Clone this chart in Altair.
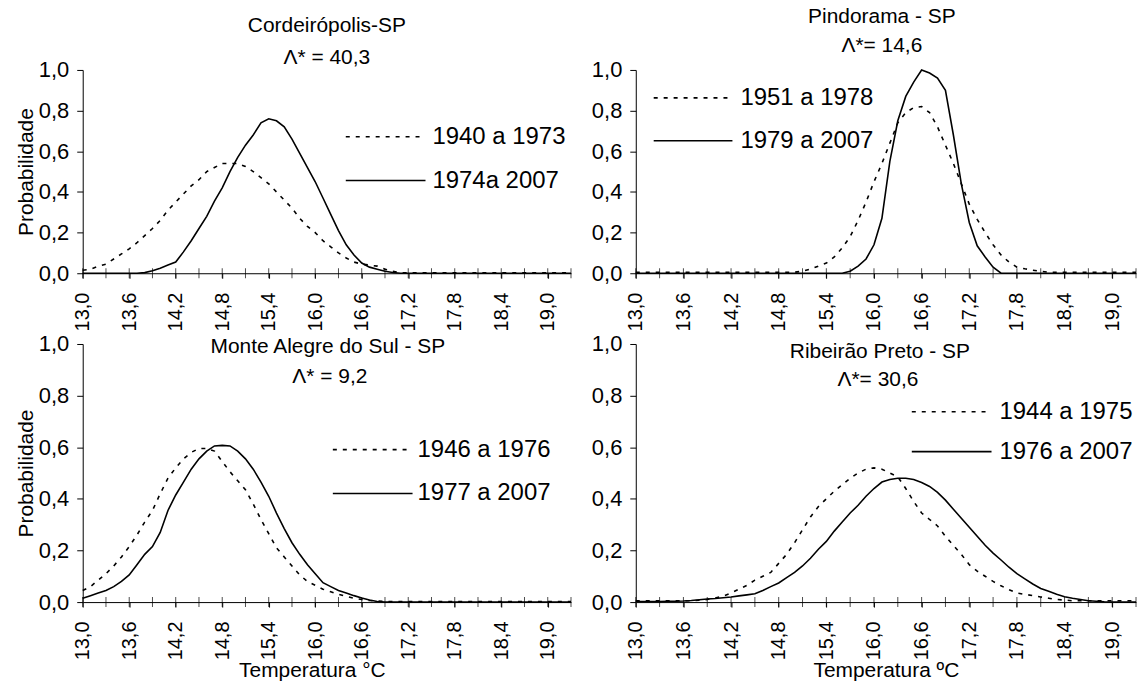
import altair as alt
import pandas as pd

FONT = "Liberation Sans"

TEMPS = [13.0, 13.1, 13.2, 13.3, 13.4, 13.5, 13.6, 13.7, 13.8, 13.9,
         14.0, 14.1, 14.2, 14.3, 14.4, 14.5, 14.6, 14.7, 14.8, 14.9,
         15.0, 15.1, 15.2, 15.3, 15.4, 15.5, 15.6, 15.7, 15.8, 15.9,
         16.0, 16.1, 16.2, 16.3, 16.4, 16.5, 16.6, 16.7, 16.8, 16.9,
         17.0, 17.1, 17.2, 17.3, 17.4, 17.5, 17.6, 17.7, 17.8, 17.9,
         18.0, 18.1, 18.2, 18.3, 18.4, 18.5, 18.6, 18.7, 18.8, 18.9,
         19.0, 19.1, 19.2, 19.3]

X_TICKS = [13.0, 13.3, 13.6, 13.9, 14.2, 14.5, 14.8, 15.1, 15.4, 15.7, 16.0,
           16.3, 16.6, 16.9, 17.2, 17.5, 17.8, 18.1, 18.4, 18.7, 19.0, 19.3]
Y_TICKS = [0.0, 0.2, 0.4, 0.6, 0.8, 1.0]

# Cordeirópolis-SP
cord_a = [0.015, 0.020, 0.035, 0.045, 0.070, 0.095, 0.120, 0.150, 0.185, 0.220,
          0.260, 0.310, 0.350, 0.390, 0.430, 0.460, 0.500, 0.520, 0.540, 0.540,
          0.540, 0.525, 0.500, 0.470, 0.440, 0.400, 0.360, 0.320, 0.270, 0.230,
          0.200, 0.160, 0.130, 0.100, 0.075, 0.055, 0.045, 0.040, 0.035, 0.020,
          0.010, 0.003, 0.002, 0.002, 0.002, 0.002, 0.002, 0.002, 0.002, 0.002,
          0.002, 0.002, 0.002, 0.002, 0.002, 0.002, 0.002, 0.002, 0.002, 0.002,
          0.002, 0.002, 0.002, 0.002]
cord_b = [0.0, 0.0, 0.0, 0.0, 0.0, 0.0, 0.0, 0.0, 0.003, 0.012,
          0.025, 0.040, 0.055, 0.105, 0.160, 0.220, 0.280, 0.355, 0.420, 0.500,
          0.570, 0.630, 0.680, 0.740, 0.760, 0.750, 0.720, 0.660, 0.590, 0.520,
          0.450, 0.370, 0.290, 0.210, 0.140, 0.090, 0.050, 0.030, 0.020, 0.010,
          0.004, 0.0, 0.0, 0.0, 0.0, 0.0, 0.0, 0.0, 0.0, 0.0,
          0.0, 0.0, 0.0, 0.0, 0.0, 0.0, 0.0, 0.0, 0.0, 0.0,
          0.0, 0.0, 0.0, 0.0]

# Pindorama - SP
pind_a = [0.005, 0.005, 0.005, 0.005, 0.005, 0.005, 0.005, 0.005, 0.005, 0.005,
          0.005, 0.005, 0.005, 0.005, 0.005, 0.005, 0.005, 0.005, 0.005, 0.005,
          0.005, 0.010, 0.020, 0.035, 0.050, 0.080, 0.125, 0.180, 0.260, 0.350,
          0.450, 0.540, 0.640, 0.740, 0.790, 0.815, 0.820, 0.790, 0.720, 0.630,
          0.540, 0.440, 0.340, 0.265, 0.200, 0.140, 0.090, 0.055, 0.030, 0.022,
          0.015, 0.010, 0.005, 0.005, 0.005, 0.005, 0.005, 0.005, 0.005, 0.005,
          0.005, 0.005, 0.005, 0.005]
pind_b = [0.0, 0.0, 0.0, 0.0, 0.0, 0.0, 0.0, 0.0, 0.0, 0.0,
          0.0, 0.0, 0.0, 0.0, 0.0, 0.0, 0.0, 0.0, 0.0, 0.0,
          0.0, 0.0, 0.0, 0.0, 0.0, 0.0, 0.0, 0.010, 0.035, 0.070,
          0.140, 0.270, 0.550, 0.750, 0.870, 0.940, 1.000, 0.985, 0.960, 0.900,
          0.680, 0.440, 0.250, 0.135, 0.080, 0.030, 0.0, 0.0, 0.0, 0.0,
          0.0, 0.0, 0.0, 0.0, 0.0, 0.0, 0.0, 0.0, 0.0, 0.0,
          0.0, 0.0, 0.0, 0.0]

# Monte Alegre do Sul - SP
mont_a = [0.045, 0.060, 0.085, 0.110, 0.140, 0.175, 0.215, 0.260, 0.310, 0.355,
          0.420, 0.480, 0.520, 0.555, 0.580, 0.595, 0.595, 0.585, 0.545, 0.505,
          0.470, 0.435, 0.380, 0.320, 0.265, 0.210, 0.175, 0.140, 0.105, 0.080,
          0.065, 0.050, 0.040, 0.030, 0.022, 0.015, 0.010, 0.006, 0.004, 0.003,
          0.002, 0.002, 0.002, 0.002, 0.002, 0.002, 0.002, 0.002, 0.002, 0.002,
          0.002, 0.002, 0.002, 0.002, 0.002, 0.002, 0.002, 0.002, 0.002, 0.002,
          0.002, 0.002, 0.002, 0.002]
mont_b = [0.015, 0.025, 0.035, 0.045, 0.060, 0.080, 0.105, 0.145, 0.185, 0.215,
          0.270, 0.355, 0.415, 0.465, 0.515, 0.555, 0.585, 0.605, 0.607, 0.605,
          0.585, 0.555, 0.515, 0.465, 0.410, 0.345, 0.285, 0.230, 0.185, 0.145,
          0.110, 0.075, 0.060, 0.045, 0.035, 0.025, 0.016, 0.008, 0.002, 0.0,
          0.0, 0.0, 0.0, 0.0, 0.0, 0.0, 0.0, 0.0, 0.0, 0.0,
          0.0, 0.0, 0.0, 0.0, 0.0, 0.0, 0.0, 0.0, 0.0, 0.0,
          0.0, 0.0, 0.0, 0.0]

# Ribeirão Preto - SP
ribe_a = [0.005, 0.005, 0.005, 0.005, 0.005, 0.005, 0.005, 0.005, 0.007, 0.010,
          0.016, 0.023, 0.035, 0.050, 0.065, 0.085, 0.100, 0.115, 0.150, 0.185,
          0.230, 0.280, 0.330, 0.370, 0.400, 0.430, 0.455, 0.480, 0.500, 0.515,
          0.520, 0.515, 0.500, 0.485, 0.440, 0.390, 0.345, 0.320, 0.295, 0.255,
          0.220, 0.185, 0.145, 0.120, 0.100, 0.080, 0.063, 0.048, 0.035, 0.030,
          0.025, 0.020, 0.015, 0.010, 0.008, 0.005, 0.005, 0.005, 0.005, 0.005,
          0.005, 0.005, 0.005, 0.005]
ribe_b = [0.002, 0.002, 0.002, 0.002, 0.003, 0.003, 0.004, 0.006, 0.009, 0.012,
          0.014, 0.017, 0.020, 0.024, 0.028, 0.032, 0.045, 0.060, 0.074, 0.095,
          0.115, 0.140, 0.170, 0.205, 0.235, 0.275, 0.310, 0.345, 0.375, 0.410,
          0.440, 0.465, 0.475, 0.480, 0.480, 0.475, 0.463, 0.448, 0.425, 0.395,
          0.360, 0.325, 0.290, 0.255, 0.220, 0.190, 0.163, 0.135, 0.110, 0.090,
          0.070, 0.053, 0.042, 0.030, 0.021, 0.015, 0.010, 0.005, 0.003, 0.001,
          0.0, 0.0, 0.0, 0.0]

TITLES = [("Cordeirópolis-SP", "Λ* = 40,3"),
          ("Pindorama - SP", "Λ*= 14,6"),
          ("Monte Alegre do Sul - SP", "Λ* = 9,2"),
          ("Ribeirão Preto - SP", "Λ*= 30,6")]
LEGENDS = [("1940 a 1973", "1974a 2007"),
           ("1951 a 1978", "1979 a 2007"),
           ("1946 a 1976", "1977 a 2007"),
           ("1944 a 1975", "1976 a 2007")]

DOT = [4, 6]
LW = 1.6

X_LABEL_EXPR = ("(round(datum.value*10)-130) % 6 == 0 ? "
                "replace(format(datum.value, '.1f'), '.', ',') : ''")
Y_LABEL_EXPR = "replace(format(datum.value, '.1f'), '.', ',')"


def text_layer(txt, px, py, size, align="center"):
    return alt.Chart(pd.DataFrame({"t": [txt]})).mark_text(
        font=FONT, fontSize=size, color="black", align=align, baseline="middle"
    ).encode(text="t:N", x=alt.value(px), y=alt.value(py))


def rule_layer(x1, x2, py, dash):
    mk = dict(color="black", strokeWidth=LW)
    if dash:
        mk["strokeDash"] = DOT
    return alt.Chart(pd.DataFrame({"k": [0]})).mark_rule(**mk).encode(
        x=alt.value(x1), x2=alt.value(x2), y=alt.value(py))


def panel(a_vals, b_vals, idx, width, height, ytitle, xtitle, xtitle_x, lay):
    df = pd.DataFrame({"T": TEMPS + TEMPS, "p": a_vals + b_vals,
                       "s": ["a"] * len(TEMPS) + ["b"] * len(TEMPS)})
    xscale = alt.Scale(domain=[13.0, 19.3], nice=False, zero=False)
    yscale = alt.Scale(domain=[0, 1], nice=False)
    xaxis_kw = dict(values=X_TICKS, labelExpr=X_LABEL_EXPR, labelAngle=270,
                    tickSize=5, labelPadding=14, labelOverlap=False, labelFlush=False,
                    labelFontSize=20, title=xtitle, titlePadding=0, titleFontSize=21)
    if xtitle_x is not None:
        xaxis_kw["titleX"] = xtitle_x
    x = alt.X("T:Q", scale=xscale, axis=alt.Axis(**xaxis_kw))
    y = alt.Y("p:Q", scale=yscale,
              axis=alt.Axis(values=Y_TICKS, labelExpr=Y_LABEL_EXPR, tickSize=6,
                            labelPadding=8, labelFontSize=22, title=ytitle,
                            titlePadding=2, titleFontSize=21))
    xs = alt.X("T:Q", scale=xscale)
    ys = alt.Y("p:Q", scale=yscale)
    dotted = alt.Chart(df).transform_filter("datum.s == 'a'").mark_line(
        color="black", strokeWidth=LW, strokeDash=DOT).encode(x=x, y=y)
    solid = alt.Chart(df).transform_filter("datum.s == 'b'").mark_line(
        color="black", strokeWidth=LW).encode(x=xs, y=ys)
    ticks = alt.Chart(pd.DataFrame({"T": X_TICKS, "p": [0.0] * len(X_TICKS)})).mark_tick(
        orient="vertical", size=10, thickness=1, color="black").encode(x=xs, y=ys)
    t1, t2 = TITLES[idx]
    l1, l2 = LEGENDS[idx]
    layers = [ticks, dotted, solid,
              text_layer(t1, lay["t1"][0], lay["t1"][1], 21),
              text_layer(t2, lay["t2"][0], lay["t2"][1], 21),
              rule_layer(lay["la"][0], lay["la"][1], lay["la"][2], True),
              rule_layer(lay["lb"][0], lay["lb"][1], lay["lb"][2], False),
              text_layer(l1, lay["lt"], lay["la"][2], 24, "left"),
              text_layer(l2, lay["lt"], lay["lb"][2], 24, "left")]
    return alt.layer(*layers).properties(width=width, height=height)


LAY = [
    dict(t1=(245, -44), t2=(245, -12), la=(264, 339, 67), lb=(264, 344, 111), lt=351),
    dict(t1=(247, -53), t2=(247, -24), la=(18, 94, 28), lb=(18, 97, 71), lt=105),
    dict(t1=(246, 3), t2=(248, 33), la=(251, 327, 106), lb=(251, 331, 150), lt=336),
    dict(t1=(245, 8), t2=(243, 36), la=(277, 352, 68), lb=(277, 357, 108), lt=365),
]

p1 = panel(cord_a, cord_b, 0, 490, 204, "Probabilidade", "", None, LAY[0])
p2 = panel(pind_a, pind_b, 1, 502, 204, "", "", None, LAY[1])
p3 = panel(mont_a, mont_b, 2, 490, 259, "Probabilidade", "Temperatura °C", 230, LAY[2])
p4 = panel(ribe_a, ribe_b, 3, 502, 259, "", "Temperatura ºC", None, LAY[3])

top = alt.hconcat(p1, p2, spacing=15)
bottom = alt.hconcat(p3, p4, spacing=15)

chart = alt.vconcat(top, bottom, spacing=0).properties(
    padding={"left": 14, "top": 4, "right": 0, "bottom": 0},
    background="white",
).configure_view(stroke="transparent").configure_axis(
    domainColor="black", tickColor="black", labelColor="black", titleColor="black",
    labelFont=FONT, titleFont=FONT, titleFontWeight="normal", grid=False,
    domainWidth=1, tickWidth=1,
)

chart.save("out.html", embed_options={"renderer": "svg", "actions": False})
